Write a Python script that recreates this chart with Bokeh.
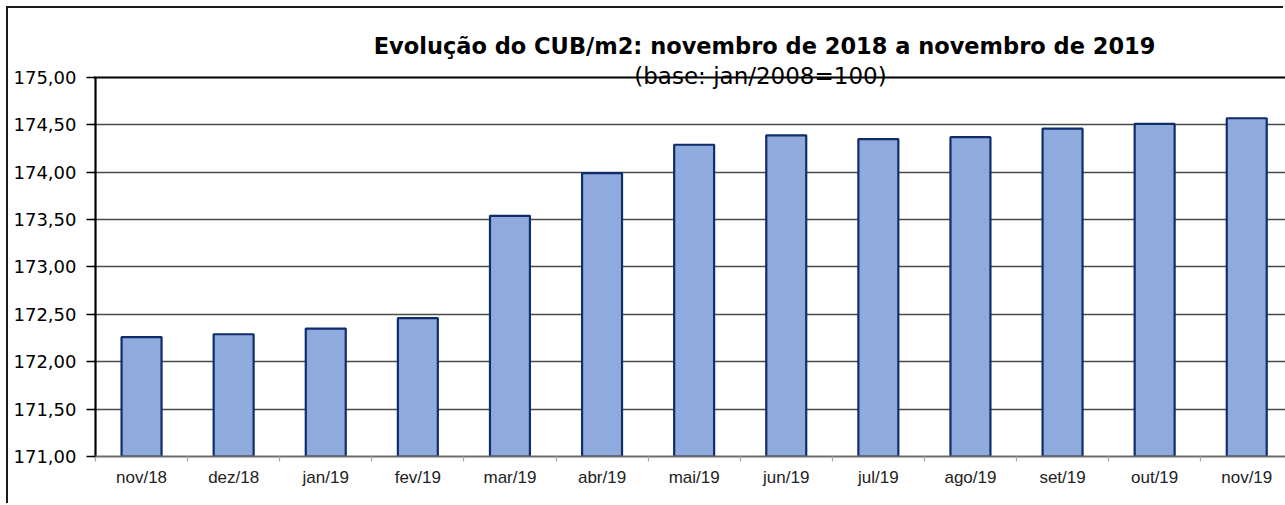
from bokeh.plotting import figure
from bokeh.models import Range1d, FixedTicker, Label, Span
from bokeh.embed import file_html
from bokeh.resources import INLINE

months = ["nov/18", "dez/18", "jan/19", "fev/19", "mar/19", "abr/19", "mai/19",
          "jun/19", "jul/19", "ago/19", "set/19", "out/19", "nov/19"]
cub_values = [172.26, 172.29, 172.35, 172.46, 173.54, 173.99, 174.29,
              174.39, 174.35, 174.37, 174.46, 174.51, 174.57]
y_ticks = [171.0, 171.5, 172.0, 172.5, 173.0, 173.5, 174.0, 174.5, 175.0]
y_tick_labels = ["171,00", "171,50", "172,00", "172,50", "173,00",
                 "173,50", "174,00", "174,50", "175,00"]
title_text = "Evolução do CUB/m2: novembro de 2018 a novembro de 2019"
subtitle_text = "(base: jan/2008=100)"

xs = list(range(len(months)))
y_min, y_max = y_ticks[0], y_ticks[-1]

p = figure(width=1277, height=497, output_backend="svg", toolbar_location=None,
           x_range=Range1d(-0.52172, 12.4207), y_range=Range1d(y_min, 175.728),
           min_border_left=85, min_border_right=0, min_border_top=0,
           min_border_bottom=49)
p.margin = (8, 0, 0, 8)
p.outline_line_color = None
p.background_fill_color = "white"
p.border_fill_color = "white"
p.styles = {"box-shadow": "-2px -2px 0px 0px #1a1a1a"}

# grid
p.xgrid.grid_line_color = None
p.ygrid.ticker = FixedTicker(ticks=y_ticks[1:-1])
p.ygrid.grid_line_color = "#4a4a4a"
p.ygrid.grid_line_width = 1.6

p.vbar(x=xs, top=cub_values, bottom=y_min, width=0.434,
       fill_color="#8FAADC", line_color="#0F2D6B", line_width=2.2)

# subtitle (drawn before the top border so the border line crosses it)
p.add_layout(Label(x=6.72, y=y_max, y_offset=1, text=subtitle_text,
                   text_font="DejaVu Sans", text_font_size="23px",
                   text_align="center", text_baseline="alphabetic",
                   text_color="black"))

# plot-area top border and left axis line
p.add_layout(Span(location=y_max, dimension="width", line_color="black", line_width=2.2))
p.segment(x0=[-0.5], y0=[y_min], x1=[-0.5], y1=[y_max], line_color="black", line_width=2.2)

# y axis
p.yaxis.ticker = FixedTicker(ticks=y_ticks)
p.yaxis.major_label_overrides = {t: l for t, l in zip(y_ticks, y_tick_labels)}
p.yaxis.axis_line_color = None
p.yaxis.major_tick_line_color = "black"
p.yaxis.major_tick_line_width = 1.3
p.yaxis.major_tick_out = 7
p.yaxis.major_tick_in = 2
p.yaxis.minor_tick_line_color = None
p.yaxis.major_label_standoff = 10
p.yaxis.major_label_text_font = "DejaVu Sans"
p.yaxis.major_label_text_font_size = "18px"
p.yaxis.major_label_text_color = "black"

# x axis: labels at centers, small ticks at category boundaries
p.xaxis.ticker = FixedTicker(ticks=xs, minor_ticks=[i + 0.5 for i in range(-1, len(months))])
p.xaxis.major_label_overrides = {i: m for i, m in zip(xs, months)}
p.xaxis.axis_line_color = "#6e6e6e"
p.xaxis.axis_line_width = 2.2
p.xaxis.major_tick_line_color = None
p.xaxis.major_tick_out = 0
p.xaxis.major_tick_in = 0
p.xaxis.minor_tick_line_color = "#a6a6a6"
p.xaxis.minor_tick_line_width = 1.2
p.xaxis.minor_tick_out = 5
p.xaxis.minor_tick_in = 0
p.xaxis.major_label_standoff = 6
p.xaxis.major_label_text_font = "Liberation Sans"
p.xaxis.major_label_text_font_size = "17px"
p.xaxis.major_label_text_color = "#222222"

p.add_layout(Label(x=6.764, y=y_max, y_offset=31, text=title_text,
                   text_font="DejaVu Sans", text_font_style="bold",
                   text_font_size="22.5px", text_align="center",
                   text_baseline="alphabetic", text_color="black"))

open("out.html", "w").write(file_html(p, INLINE))
